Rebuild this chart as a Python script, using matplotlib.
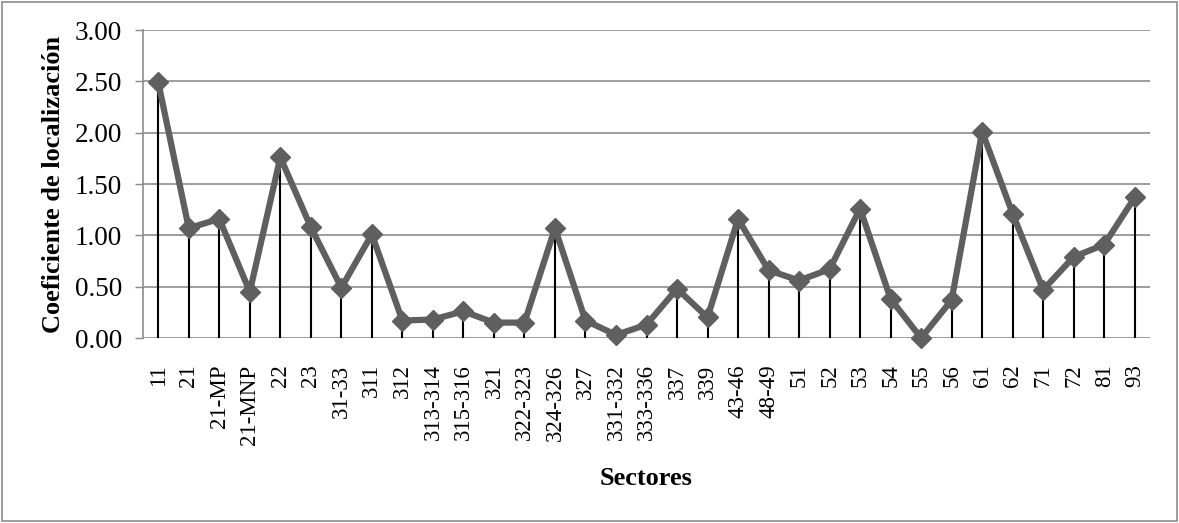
import numpy as np
import matplotlib.pyplot as plt

plt.rcParams['font.family'] = ['Liberation Serif', 'DejaVu Serif']

sectores = ['11', '21', '21-MP', '21-MNP', '22', '23', '31-33', '311', '312',
            '313-314', '315-316', '321', '322-323', '324-326', '327', '331-332',
            '333-336', '337', '339', '43-46', '48-49', '51', '52', '53', '54',
            '55', '56', '61', '62', '71', '72', '81', '93']
coeficiente = [2.49, 1.07, 1.16, 0.45, 1.76, 1.08, 0.49, 1.01, 0.17,
               0.18, 0.26, 0.15, 0.15, 1.07, 0.17, 0.03,
               0.13, 0.48, 0.20, 1.16, 0.66, 0.56, 0.67, 1.26, 0.38,
               0.00, 0.37, 2.01, 1.21, 0.47, 0.79, 0.91, 1.37]

W, H = 1179, 523
fig = plt.figure(figsize=(W / 100, H / 100), dpi=100)
ax = fig.add_axes([143 / W, 1 - 338 / H, (1150 - 143) / W, (338 - 30) / H])

x = np.arange(len(sectores))
ax.vlines(x, 0, coeficiente, color='black', linewidth=1.5, zorder=2)
ax.plot(x, coeficiente, color='#5f5f5f', linewidth=4.5, marker='D',
        markersize=10, markeredgecolor='#5f5f5f', zorder=3, clip_on=False)

ax.set_xlim(-0.5, len(sectores) - 0.5)
ax.set_ylim(0, 3)
yt = np.arange(0, 3.01, 0.5)
ax.set_yticks(yt)
ax.set_yticklabels([f'{v:.2f}' for v in yt], fontsize=19.5)
ax.set_xticks(x)
ax.set_xticklabels(sectores, rotation=90, fontsize=16.5)
ax.tick_params(axis='x', length=0, pad=19)
ax.tick_params(axis='y', length=6, color='#888888', width=1, pad=9)
ax.yaxis.grid(True, color='#8c8c8c', linewidth=1.2)
ax.set_axisbelow(True)
for side in ['top', 'right', 'bottom']:
    ax.spines[side].set_visible(False)
ax.spines['left'].set_color('#8c8c8c')
ax.spines['left'].set_linewidth(1.2)

ax.set_ylabel('Coeficiente de localización', fontsize=19, fontweight='bold', labelpad=7)
ax.set_xlabel('Sectores', fontsize=19, fontweight='bold', labelpad=16)

# outer chart border
fig.patches.append(plt.Rectangle((0.002, 0.003), 0.996, 0.994, transform=fig.transFigure,
                                 fill=False, edgecolor='#8c8c8c', linewidth=1.2))

fig.savefig('out.png', dpi=100)
